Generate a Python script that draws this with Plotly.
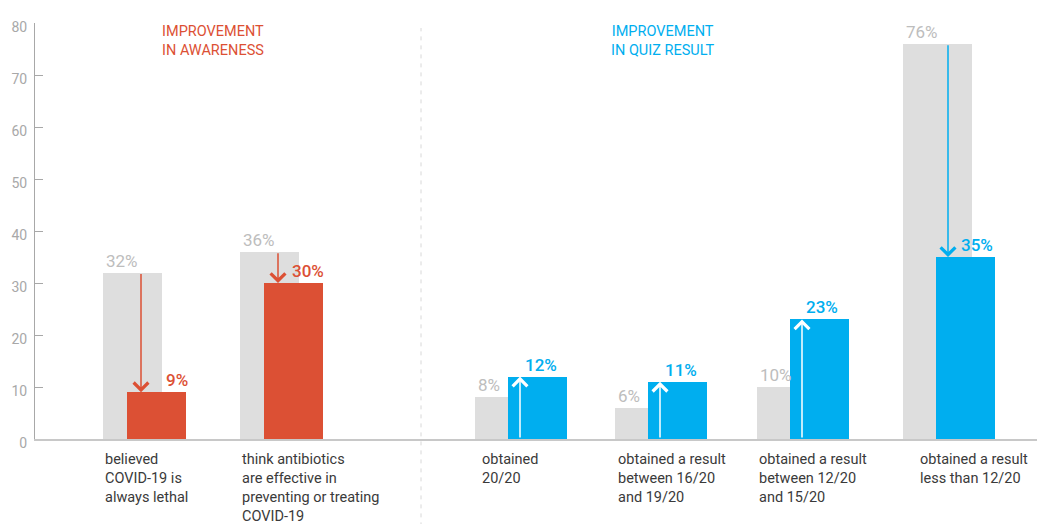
import plotly.graph_objects as go

# ---- data ----
categories = [
    "believed<br>COVID-19 is<br>always lethal",
    "think antibiotics<br>are effective in<br>preventing or treating<br>COVID-19",
    "obtained<br>20/20",
    "obtained a result<br>between 16/20<br>and 19/20",
    "obtained a result<br>between 12/20<br>and 15/20",
    "obtained a result<br>less than 12/20",
]
before_values = [32, 36, 8, 6, 10, 76]
after_values = [9, 30, 12, 11, 23, 35]
group = ["awareness", "awareness", "quiz", "quiz", "quiz", "quiz"]
group_titles = {"awareness": "IMPROVEMENT<br>IN AWARENESS", "quiz": "IMPROVEMENT<br>IN QUIZ RESULT"}
y_ticks = [0, 10, 20, 30, 40, 50, 60, 70, 80]

# ---- layout / style (not data) ----
slot_left = [68, 205, 440, 580, 722, 868]          # left edge of each "before" bar (x units = px)
label_left = [68, 205, 445, 581, 722, 883]         # left edge of each category label
after_label_dx = [4, 3, -8, -8, -9, 0]
grey_width = {"awareness": 59, "quiz": 69}
after_offset = {"awareness": 24, "quiz": 33}
arrow_dx = {"awareness": 14, "quiz": 12}
after_width = 59
title_x = {"awareness": 178, "quiz": 628}
separator_x = 386

RED = "#DC5034"
BLUE = "#00AEEF"
GREY_BAR = "#DEDEDE"
GREY_TXT = "#BDBDBD"
AXIS_TXT = "#A8A8A8"
FONT = "Roboto"
color = {"awareness": RED, "quiz": BLUE}

before_w = [grey_width[g] for g in group]
before_x = [l + w / 2 for l, w in zip(slot_left, before_w)]
after_left = [l + after_offset[g] for l, g in zip(slot_left, group)]
after_x = [l + after_width / 2 for l in after_left]
after_colors = [color[g] for g in group]

fig = go.Figure()
fig.add_trace(go.Bar(x=before_x, y=before_values, width=before_w,
                     marker=dict(color=GREY_BAR, line=dict(width=0)),
                     hoverinfo="skip", showlegend=False))
fig.add_trace(go.Bar(x=after_x, y=after_values, width=[after_width] * len(after_x),
                     marker=dict(color=after_colors, line=dict(width=0)),
                     hoverinfo="skip", showlegend=False))

annotations = []
for i, cat in enumerate(categories):
    g = group[i]
    # before label
    annotations.append(dict(x=slot_left[i] + 1, y=before_values[i], xref="x", yref="y",
                            text=f"{before_values[i]}%", showarrow=False,
                            xanchor="left", yanchor="bottom", yshift=0,
                            font=dict(family=FONT, size=17, color=GREY_TXT)))
    # after label
    annotations.append(dict(x=after_left[i] + after_width + after_label_dx[i], y=after_values[i],
                            xref="x", yref="y", text=f"{after_values[i]}%", showarrow=False,
                            xanchor="right", yanchor="bottom", yshift=0,
                            font=dict(family=FONT, size=17, color=color[g], weight=500)))
    # arrow
    ax_x = after_left[i] + arrow_dx[g]
    down = before_values[i] > after_values[i]
    annotations.append(dict(x=ax_x, y=after_values[i], ax=ax_x,
                            ay=before_values[i] if down else 0,
                            xref="x", yref="y", axref="x", ayref="y", text="",
                            showarrow=True, arrowhead=4, arrowsize=1.9, arrowwidth=1.5,
                            arrowcolor=color[g] if down else "white", standoff=0))
    # category label
    annotations.append(dict(x=label_left[i], y=0, xref="x", yref="paper", text=cat,
                            showarrow=False, xanchor="left", yanchor="top", align="left",
                            yshift=-10, font=dict(family=FONT, size=14.5, color="#3A3A3A")))

for g, t in group_titles.items():
    annotations.append(dict(x=title_x[g], y=1, xref="x", yref="paper", text=t,
                            showarrow=False, xanchor="center", yanchor="top", yshift=2,
                            align="center", font=dict(family=FONT, size=14.5, color=color[g])))

fig.update_layout(
    width=1039, height=524,
    margin=dict(l=35, r=2, t=23, b=85),
    paper_bgcolor="white", plot_bgcolor="white",
    barmode="overlay", bargap=0,
    annotations=annotations,
    shapes=[dict(type="line", xref="x", yref="paper", x0=separator_x, x1=separator_x,
                 y0=-0.21, y1=0.988, line=dict(color="#D8D8D8", width=1, dash="4px,5px"),
                 layer="below")],
    xaxis=dict(range=[0, 1002], showgrid=False, zeroline=False, showticklabels=False,
               ticks="", showline=True, linecolor="#C8C8C8", linewidth=2, fixedrange=True),
    yaxis=dict(range=[0, 80], tickvals=y_ticks, showgrid=False, zeroline=False,
               showline=True, linecolor="#A8A8A8", linewidth=1, ticks="inside", ticklen=8,
               tickcolor="#A8A8A8", tickfont=dict(family=FONT, size=14, color=AXIS_TXT),
               ticklabelshift=4, ticklabelstandoff=4, fixedrange=True),
    font=dict(family=FONT),
)

fig.write_html("out.html", config={"displayModeBar": False},
               post_script="document.body.style.margin='0';document.body.style.overflow='hidden';")
